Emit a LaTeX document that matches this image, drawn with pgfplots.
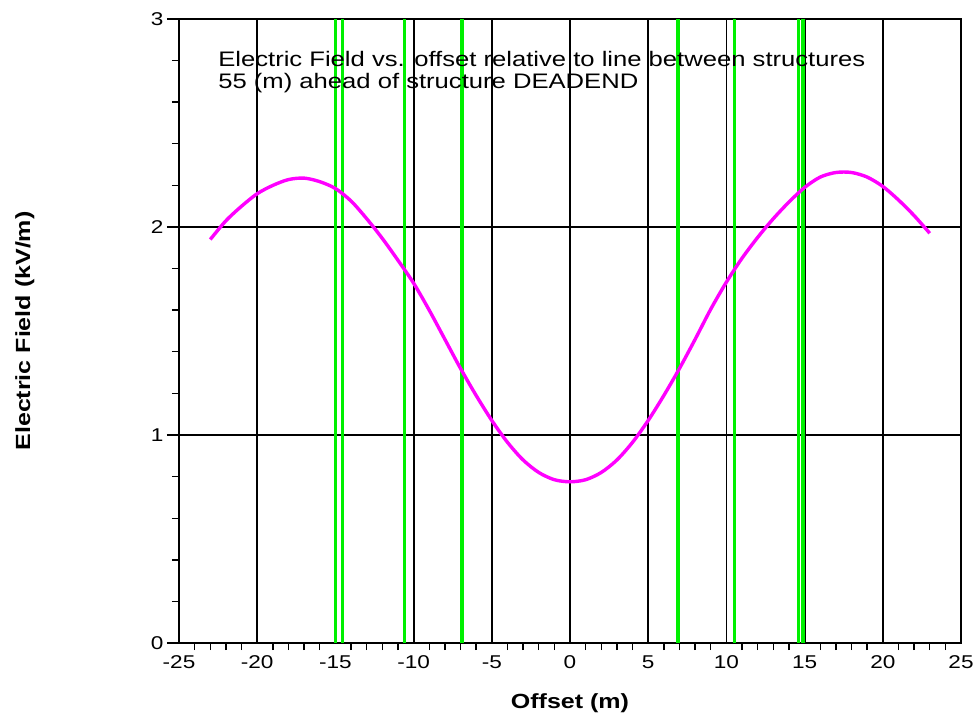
\documentclass[border=0pt]{standalone}
\usepackage{fontspec}
\setmainfont{Liberation Sans}[FakeStretch=1.22]
\usepackage{pgfplots}
\pgfplotsset{compat=1.18}

\definecolor{curvemag}{RGB}{255,0,255}
\definecolor{strgreen}{RGB}{0,240,0}

\begin{document}
\begin{tikzpicture}
\path[use as bounding box] (0,0) rectangle (976pt,717pt);
\begin{axis}[
    at={(179pt,74pt)}, anchor=south west,
    scale only axis,
    width=782pt, height=624pt,
    xmin=-25, xmax=25, ymin=0, ymax=3,
    xtick={-25,-20,...,25},
    ytick={0,1,2,3},
    minor x tick num=4,
    minor y tick num=4,
    xtick pos=left, ytick pos=left,
    tick align=outside,
    major tick length=12pt,
    minor tick length=7pt,
    every major x tick/.append style={draw=none},
    tick style={line width=1.4pt, black},
    axis line style={line width=1.8pt, black},
    grid=major,
    major grid style={line width=1.8pt, black},
    tick label style={font=\fontsize{18.5}{20}\selectfont},
    xticklabel style={yshift=3pt},
    /pgf/number format/assume math mode=true,
    xlabel={\bfseries Offset (m)},
    ylabel={\bfseries Electric Field (kV/m)},
    label style={font=\fontsize{20.5}{22}\selectfont},
    xlabel style={at={(axis description cs:0.5,-0.0962)}, anchor=center},
    ylabel style={at={(axis description cs:-0.197,0.5)}, anchor=center},
    clip=false,
]
% structure lines
\addplot[strgreen, line width=3.2pt] coordinates {(-15.0,0) (-15.0,3)};
\addplot[strgreen, line width=3.2pt] coordinates {(-14.55,0) (-14.55,3)};
\addplot[strgreen, line width=3.2pt] coordinates {(-10.6,0) (-10.6,3)};
\addplot[strgreen, line width=3.2pt] coordinates {(-6.9,0) (-6.9,3)};
\addplot[strgreen, line width=3.2pt] coordinates {(6.9,0) (6.9,3)};
\addplot[strgreen, line width=3.2pt] coordinates {(10.5,0) (10.5,3)};
\addplot[strgreen, line width=3.2pt] coordinates {(14.6,0) (14.6,3)};
\addplot[strgreen, line width=3.2pt] coordinates {(14.9,0) (14.9,3)};
% electric field profile
\addplot[curvemag, line width=3.4pt, smooth] coordinates {
    (-23,1.94) (-22,2.03) (-21,2.10) (-20,2.16) (-19,2.20) (-18,2.228)
    (-17,2.235) (-16,2.218) (-15,2.185) (-14,2.125) (-13,2.04) (-12,1.945)
    (-11,1.84) (-10,1.73) (-9,1.60) (-8,1.46) (-7,1.32) (-6,1.19)
    (-5,1.07) (-4,0.965) (-3,0.88) (-2,0.82) (-1,0.785) (0,0.775)
    (1,0.785) (2,0.82) (3,0.88) (4,0.965) (5,1.07) (6,1.19)
    (7,1.32) (8,1.46) (9,1.605) (10,1.735) (11,1.85) (12,1.95)
    (13,2.04) (14,2.12) (15,2.19) (16,2.24) (17,2.262) (18,2.262)
    (19,2.24) (20,2.195) (21,2.13) (22,2.055) (23,1.97)
};
\node[anchor=base west, align=left, inner sep=0pt,
      font=\fontsize{21}{21.5}\selectfont] at (axis cs:-22.5,2.668)
    {Electric Field vs. offset relative to line between structures\\
     55 (m) ahead of structure DEADEND};
\end{axis}
\end{tikzpicture}
\end{document}
